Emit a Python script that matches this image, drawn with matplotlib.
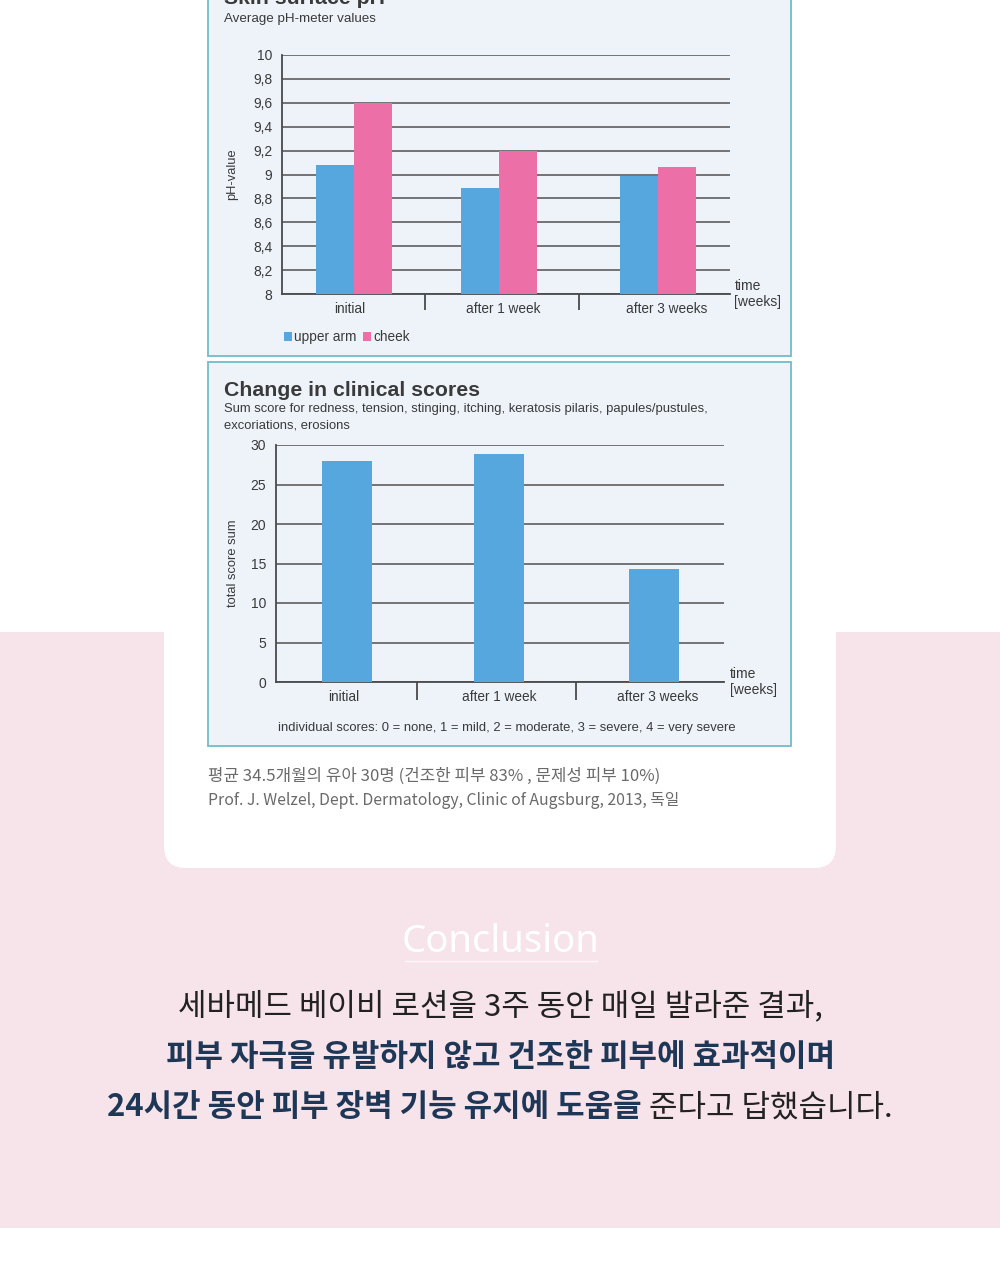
import matplotlib
matplotlib.use("Agg")
import matplotlib.pyplot as plt
from matplotlib import font_manager
from matplotlib.patches import Rectangle, FancyBboxPatch

# data
categories = ['initial', 'after 1 week', 'after 3 weeks']
ph_upper_arm = [9.08, 8.89, 8.99]
ph_cheek = [9.60, 9.20, 9.06]
ph_ticks = [8, 8.2, 8.4, 8.6, 8.8, 9, 9.2, 9.4, 9.6, 9.8, 10]
ph_ticklabels = ['8', '8,2', '8,4', '8,6', '8,8', '9', '9,2', '9,4', '9,6', '9,8', '10']
score_totals = [28.0, 28.8, 14.3]
score_ticks = [0, 5, 10, 15, 20, 25, 30]

installed = {f.name for f in font_manager.fontManager.ttflist}
LAT = 'Liberation Sans Narrow' if 'Liberation Sans Narrow' in installed else 'Liberation Sans'
KR = 'Noto Sans CJK KR'
plt.rcParams['font.family'] = [LAT, KR, 'DejaVu Sans']

BLUE = '#55a7dd'
PINK = '#ec70a7'
PANEL = '#eef3fa'
BORDER = '#6fbcca'
GRID = '#5e5e5e'
TXT = '#3a3a3a'
PINKBG = '#f6e4ea'

fig = plt.figure(figsize=(10, 12.8), dpi=100)
fig.patch.set_facecolor('white')

# page background in pixel coordinates
bg = fig.add_axes([0, 0, 1, 1], zorder=0)
bg.set_xlim(0, 1000)
bg.set_ylim(1280, 0)
bg.axis('off')
bg.add_patch(Rectangle((0, 632), 1000, 596, color=PINKBG, lw=0))
bg.add_patch(FancyBboxPatch((164, -60), 672, 928, boxstyle='round,pad=0,rounding_size=22',
                            fc='white', ec='none'))
bg.add_patch(Rectangle((207.5, -10), 583, 366, fc=PANEL, ec=BORDER, lw=1.3))
bg.add_patch(Rectangle((207.5, 361.5), 583, 384, fc=PANEL, ec=BORDER, lw=1.3))

# panel titles (the first one is cut by the top edge, as in the source)
bg.text(224, 4, 'Skin surface pH', fontsize=15.3, fontweight='bold', color=TXT, va='baseline')
bg.text(224, 22, 'Average pH-meter values', fontsize=9.6, color=TXT, va='baseline')
bg.text(224, 396, 'Change in clinical scores', fontsize=15.3, fontweight='bold', color=TXT, va='baseline')
bg.text(224, 412, 'Sum score for redness, tension, stinging, itching, keratosis pilaris, papules/pustules,',
        fontsize=9.4, color=TXT, va='baseline')
bg.text(224, 429, 'excoriations, erosions', fontsize=9.4, color=TXT, va='baseline')
bg.text(507, 731, 'individual scores: 0 = none, 1 = mild, 2 = moderate, 3 = severe, 4 = very severe',
        fontsize=9.4, color=TXT, va='baseline', ha='center')

# source notes
bg.text(208, 781, '평균 34.5개월의 유아 30명 (건조한 피부 83% , 문제성 피부 10%)',
        fontsize=12.1, color='#6a6a6a', va='baseline', family=[KR, 'DejaVu Sans'])
bg.text(208, 805, 'Prof. J. Welzel, Dept. Dermatology, Clinic of Augsburg, 2013, 독일',
        fontsize=11.4, color='#6a6a6a', va='baseline', family=[KR, 'DejaVu Sans'])

# conclusion
bg.text(501, 952, 'Conclusion', fontsize=27.5, color='white', ha='center', va='baseline',
        family=['Noto Sans', 'DejaVu Sans'], fontweight='light')
bg.plot([405, 597], [961, 961], color='white', lw=1, alpha=0.8)

NAVY = '#1f3756'
bg.text(500, 1015, '세바메드 베이비 로션을 3주 동안 매일 발라준 결과,', fontsize=22.3, color='#222222',
        ha='center', va='baseline', family=[KR, 'DejaVu Sans'])
bg.text(500, 1066, '피부 자극을 유발하지 않고 건조한 피부에 효과적이며', fontsize=22.3, color=NAVY,
        ha='center', va='baseline', family=[KR, 'DejaVu Sans'], fontweight='bold')

# last line: bold part then regular part, centred together
part_a = bg.text(0, 1116, '24시간 동안 피부 장벽 기능 유지에 도움을 ', fontsize=22.3, color=NAVY,
                 va='baseline', family=[KR, 'DejaVu Sans'], fontweight='bold')
part_b = bg.text(0, 1116, '준다고 답했습니다.', fontsize=22.3, color='#222222',
                 va='baseline', family=[KR, 'DejaVu Sans'])
renderer = fig.canvas.get_renderer()
wa = part_a.get_window_extent(renderer).width
wb = part_b.get_window_extent(renderer).width
x0 = 500 - (wa + wb) / 2
part_a.set_x(x0)
part_b.set_x(x0 + wa)


def style_axes(ax):
    ax.patch.set_alpha(0)
    for s in ['top', 'right']:
        ax.spines[s].set_visible(False)
    for s in ['left', 'bottom']:
        ax.spines[s].set_color('#4a4a4a')
        ax.spines[s].set_linewidth(1.3)
    ax.set_axisbelow(True)
    ax.yaxis.grid(True, color=GRID, lw=1.2)
    ax.tick_params(axis='y', length=0, pad=7, labelsize=10, labelcolor=TXT)
    ax.tick_params(axis='x', length=0, pad=6, labelsize=9.8, labelcolor=TXT)


# chart 1: skin surface pH
ax1 = fig.add_axes([0.282, 1 - 294 / 1280, 0.448, 239 / 1280], zorder=2)
centers1 = [0.72, 2.17, 3.76]
w1 = 0.38
ax1.bar([c - w1 / 2 for c in centers1], [v - 8 for v in ph_upper_arm], bottom=8, width=w1,
        color=BLUE, label='upper arm', zorder=3)
ax1.bar([c + w1 / 2 for c in centers1], [v - 8 for v in ph_cheek], bottom=8, width=w1,
        color=PINK, label='cheek', zorder=3)
ax1.set_xlim(0, 4.48)
ax1.set_ylim(8, 10)
ax1.set_yticks(ph_ticks, ph_ticklabels)
ax1.set_xticks([0.68, 2.21, 3.85], categories)
style_axes(ax1)
ax1.vlines([1.43, 2.97], 0, -0.067, transform=ax1.get_xaxis_transform(), color='#4a4a4a',
           lw=1.3, clip_on=False)
ax1.text(1.01, 0.0, 'time\n[weeks]', transform=ax1.transAxes, va='center', fontsize=10,
         color=TXT, linespacing=1.1)
ax1.set_ylabel('pH-value', fontsize=9.3, color=TXT)
ax1.yaxis.set_label_coords(-0.098, 0.5)
ax1.legend(loc='center left', bbox_to_anchor=(-0.008, -0.18), ncol=2, frameon=False,
           handlelength=0.6, handleheight=0.6, handletextpad=0.15, columnspacing=0.5,
           fontsize=9.8, labelcolor=TXT, borderaxespad=0)

# chart 2: clinical scores
ax2 = fig.add_axes([0.276, 1 - 682 / 1280, 0.448, 237 / 1280], zorder=2)
centers2 = [0.705, 2.23, 3.775]
ax2.bar(centers2, score_totals, width=0.5, color=BLUE, zorder=3)
ax2.set_xlim(0, 4.48)
ax2.set_ylim(0, 30)
ax2.set_yticks(score_ticks)
ax2.set_xticks([0.68, 2.23, 3.82], categories)
style_axes(ax2)
ax2.tick_params(axis='y', pad=7)
ax2.vlines([1.41, 3.0], 0, -0.076, transform=ax2.get_xaxis_transform(), color='#4a4a4a',
           lw=1.3, clip_on=False)
ax2.text(1.013, 0.0, 'time\n[weeks]', transform=ax2.transAxes, va='center', fontsize=10,
         color=TXT, linespacing=1.1)
ax2.set_ylabel('total score sum', fontsize=9.3, color=TXT)
ax2.yaxis.set_label_coords(-0.082, 0.5)

fig.savefig('out.png', dpi=100, facecolor='white')
